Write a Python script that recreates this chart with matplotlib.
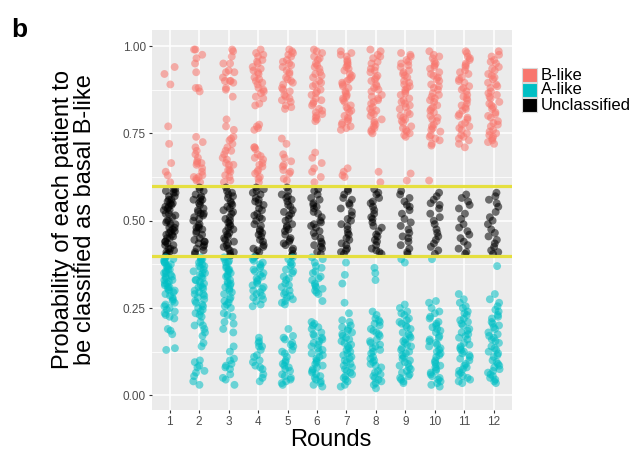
import numpy as np
import matplotlib
matplotlib.use("Agg")
import matplotlib.pyplot as plt
from matplotlib.patches import Rectangle

plt.rcParams['font.family'] = ['Liberation Sans', 'DejaVu Sans']

# probabilidades, una lista por ronda
probs_r1 = [0.94, 0.92, 0.89, 0.77, 0.72, 0.665, 0.64, 0.63, 0.61,
            0.59, 0.59, 0.585, 0.58, 0.58, 0.57, 0.57, 0.56, 0.56, 0.555, 0.55, 0.55, 0.545, 0.54, 0.54,
            0.535, 0.53, 0.53, 0.52, 0.52, 0.515, 0.51, 0.50, 0.50, 0.495, 0.49, 0.49, 0.48, 0.48, 0.475,
            0.47, 0.47, 0.465, 0.46, 0.46, 0.455, 0.45, 0.45, 0.44, 0.44, 0.435, 0.43, 0.43, 0.42, 0.42,
            0.415, 0.41, 0.41, 0.405, 0.40,
            0.395, 0.39, 0.39, 0.385, 0.38, 0.38, 0.375, 0.37, 0.37, 0.365, 0.36, 0.36, 0.355, 0.35, 0.35,
            0.345, 0.34, 0.34, 0.335, 0.33, 0.33, 0.325, 0.32, 0.32, 0.315, 0.31, 0.31, 0.305, 0.30, 0.30,
            0.295, 0.29, 0.285, 0.28, 0.275, 0.27, 0.265, 0.26, 0.255, 0.25, 0.245, 0.24, 0.235, 0.23,
            0.225, 0.22, 0.19, 0.185, 0.175, 0.135, 0.13]
probs_r2 = [0.99, 0.99, 0.975, 0.965, 0.95, 0.925, 0.88, 0.88, 0.87, 0.74, 0.725, 0.71, 0.70, 0.69,
            0.68, 0.67, 0.665, 0.66, 0.665, 0.65, 0.64, 0.63, 0.625, 0.62, 0.625, 0.61, 0.615,
            0.595, 0.59, 0.585, 0.575, 0.57, 0.565, 0.56, 0.555, 0.55, 0.545, 0.535, 0.53, 0.525, 0.52,
            0.515, 0.51, 0.505, 0.50, 0.49, 0.485, 0.48, 0.475, 0.47, 0.465, 0.46, 0.45, 0.445, 0.44,
            0.435, 0.43, 0.425, 0.42, 0.415, 0.41, 0.405, 0.56, 0.52, 0.48, 0.44,
            0.395, 0.39, 0.385, 0.38, 0.375, 0.37, 0.365, 0.36, 0.355, 0.35, 0.345, 0.34, 0.335, 0.33,
            0.325, 0.32, 0.315, 0.31, 0.305, 0.30, 0.295, 0.29, 0.285, 0.28, 0.275, 0.27, 0.265, 0.26,
            0.255, 0.25, 0.245, 0.24, 0.235, 0.23, 0.225, 0.39, 0.37, 0.35, 0.33, 0.31, 0.29,
            0.21, 0.20, 0.20, 0.19, 0.18, 0.17, 0.15, 0.14, 0.10, 0.095, 0.085, 0.08, 0.07, 0.065,
            0.055, 0.04, 0.03]
probs_r3 = [0.99, 0.985, 0.97, 0.95, 0.95, 0.925, 0.925, 0.93, 0.91, 0.90, 0.90, 0.90, 0.895, 0.875,
            0.88, 0.855, 0.79, 0.77, 0.76, 0.74, 0.735, 0.73, 0.72, 0.71, 0.70, 0.70, 0.69, 0.68, 0.675,
            0.665, 0.66, 0.66, 0.645, 0.64, 0.645, 0.625, 0.63, 0.615, 0.61,
            0.595, 0.585, 0.58, 0.57, 0.565, 0.555, 0.55, 0.545, 0.54, 0.53, 0.525, 0.52, 0.51, 0.505,
            0.50, 0.495, 0.49, 0.48, 0.475, 0.47, 0.46, 0.455, 0.45, 0.445, 0.44, 0.43, 0.425, 0.42,
            0.415, 0.41, 0.405, 0.40, 0.575, 0.535, 0.485, 0.465, 0.435,
            0.395, 0.39, 0.385, 0.38, 0.37, 0.365, 0.36, 0.355, 0.35, 0.345, 0.34, 0.33, 0.325, 0.32,
            0.315, 0.31, 0.305, 0.30, 0.295, 0.29, 0.28, 0.275, 0.27, 0.265, 0.26, 0.255, 0.25, 0.38,
            0.36, 0.34, 0.32,
            0.235, 0.23, 0.225, 0.21, 0.205, 0.18, 0.19, 0.14, 0.125, 0.105, 0.10, 0.09, 0.085, 0.08,
            0.075, 0.06, 0.05, 0.045, 0.03]
probs_r4 = [0.99, 0.98, 0.97, 0.975, 0.96, 0.955, 0.95, 0.94, 0.935, 0.93, 0.925, 0.92, 0.91, 0.905,
            0.90, 0.895, 0.89, 0.88, 0.875, 0.87, 0.865, 0.855, 0.85, 0.835, 0.83, 0.775, 0.77, 0.76,
            0.765, 0.71, 0.71, 0.705, 0.69, 0.685, 0.68, 0.675, 0.665, 0.66, 0.655, 0.645, 0.64, 0.635,
            0.625, 0.62, 0.61,
            0.595, 0.59, 0.58, 0.575, 0.565, 0.56, 0.55, 0.545, 0.535, 0.53, 0.52, 0.515, 0.505, 0.50,
            0.49, 0.485, 0.475, 0.47, 0.46, 0.455, 0.445, 0.44, 0.43, 0.425, 0.415, 0.41, 0.40, 0.585,
            0.555, 0.51, 0.465, 0.42,
            0.395, 0.39, 0.38, 0.375, 0.37, 0.365, 0.355, 0.35, 0.345, 0.34, 0.335, 0.325, 0.32, 0.315,
            0.31, 0.305, 0.30, 0.295, 0.29, 0.285, 0.28, 0.275, 0.27, 0.385, 0.36, 0.33,
            0.26, 0.255, 0.165, 0.155, 0.15, 0.14, 0.13, 0.14, 0.11, 0.115, 0.10, 0.095, 0.085, 0.08,
            0.075, 0.06, 0.05, 0.04]
probs_r5 = [0.99, 0.985, 0.98, 0.975, 0.97, 0.96, 0.955, 0.95, 0.945, 0.94, 0.93, 0.925, 0.92, 0.91,
            0.905, 0.90, 0.895, 0.89, 0.88, 0.875, 0.87, 0.86, 0.855, 0.85, 0.845, 0.84, 0.83, 0.825,
            0.82, 0.735, 0.72, 0.69, 0.68, 0.67, 0.66, 0.655, 0.645, 0.64, 0.635, 0.62, 0.615,
            0.595, 0.585, 0.575, 0.57, 0.56, 0.555, 0.545, 0.54, 0.53, 0.52, 0.515, 0.505, 0.50, 0.49,
            0.485, 0.475, 0.47, 0.46, 0.45, 0.445, 0.435, 0.43, 0.42, 0.415, 0.405, 0.40, 0.565, 0.525,
            0.48, 0.44,
            0.395, 0.39, 0.38, 0.375, 0.37, 0.36, 0.355, 0.35, 0.34, 0.335, 0.33, 0.32, 0.315, 0.31,
            0.30, 0.295, 0.29, 0.285, 0.28, 0.275, 0.27, 0.265, 0.26,
            0.19, 0.17, 0.165, 0.16, 0.15, 0.145, 0.14, 0.13, 0.125, 0.12, 0.11, 0.10, 0.095, 0.09,
            0.085, 0.08, 0.075, 0.07, 0.06, 0.055, 0.05, 0.045, 0.04, 0.035, 0.03]
probs_r6 = [0.99, 0.985, 0.98, 0.97, 0.965, 0.96, 0.95, 0.945, 0.94, 0.935, 0.925, 0.92, 0.915, 0.91,
            0.90, 0.895, 0.89, 0.885, 0.875, 0.87, 0.865, 0.86, 0.85, 0.845, 0.84, 0.835, 0.83, 0.82,
            0.815, 0.81, 0.805, 0.80, 0.795, 0.79, 0.785, 0.695, 0.68, 0.665, 0.65, 0.64, 0.625, 0.61,
            0.59, 0.585, 0.575, 0.565, 0.56, 0.55, 0.54, 0.535, 0.525, 0.52, 0.51, 0.50, 0.495, 0.485,
            0.48, 0.47, 0.465, 0.455, 0.45, 0.44, 0.435, 0.425, 0.42, 0.41, 0.405, 0.545, 0.49, 0.43,
            0.395, 0.39, 0.38, 0.37, 0.365, 0.355, 0.35, 0.34, 0.335, 0.33, 0.32, 0.315, 0.31, 0.305,
            0.30, 0.295, 0.29, 0.27,
            0.21, 0.205, 0.20, 0.195, 0.19, 0.18, 0.175, 0.17, 0.165, 0.16, 0.155, 0.15, 0.145, 0.14,
            0.135, 0.13, 0.125, 0.12, 0.115, 0.11, 0.105, 0.10, 0.095, 0.09, 0.085, 0.08, 0.075, 0.07,
            0.065, 0.06, 0.055, 0.05, 0.045, 0.04, 0.035, 0.03, 0.025]
probs_r7 = [0.985, 0.98, 0.975, 0.97, 0.96, 0.955, 0.95, 0.945, 0.94, 0.935, 0.93, 0.92, 0.915, 0.91,
            0.905, 0.90, 0.895, 0.89, 0.885, 0.88, 0.87, 0.865, 0.86, 0.855, 0.85, 0.845, 0.84, 0.83,
            0.825, 0.82, 0.815, 0.81, 0.80, 0.795, 0.79, 0.785, 0.78, 0.775, 0.77, 0.765, 0.76, 0.65,
            0.64, 0.63, 0.625,
            0.59, 0.585, 0.575, 0.565, 0.56, 0.55, 0.545, 0.535, 0.525, 0.515, 0.505, 0.50, 0.49, 0.485,
            0.475, 0.465, 0.46, 0.45, 0.445, 0.435, 0.43, 0.42, 0.415, 0.41, 0.405,
            0.38, 0.345, 0.32, 0.265, 0.235, 0.215, 0.21, 0.20, 0.195, 0.19, 0.185, 0.18, 0.175, 0.17,
            0.165, 0.16, 0.155, 0.15, 0.145, 0.14, 0.135, 0.13, 0.125, 0.12, 0.115, 0.11, 0.105, 0.10,
            0.095, 0.09, 0.085, 0.08, 0.075, 0.07, 0.065, 0.06, 0.055, 0.05, 0.045, 0.04, 0.03, 0.025]
probs_r8 = [0.99, 0.985, 0.975, 0.97, 0.965, 0.955, 0.95, 0.94, 0.935, 0.93, 0.925, 0.915, 0.91, 0.905,
            0.90, 0.89, 0.885, 0.88, 0.875, 0.87, 0.86, 0.855, 0.85, 0.845, 0.84, 0.835, 0.825, 0.82,
            0.815, 0.81, 0.805, 0.80, 0.79, 0.785, 0.78, 0.775, 0.77, 0.765, 0.76, 0.755, 0.75, 0.64, 0.61,
            0.59, 0.58, 0.575, 0.565, 0.555, 0.55, 0.54, 0.53, 0.52, 0.51, 0.505, 0.495, 0.485, 0.48,
            0.47, 0.46, 0.455, 0.445, 0.44, 0.43, 0.42, 0.415, 0.41, 0.405,
            0.365, 0.35, 0.33, 0.24, 0.23, 0.22, 0.215, 0.21, 0.205, 0.20, 0.19, 0.185, 0.18, 0.175,
            0.17, 0.16, 0.155, 0.15, 0.145, 0.14, 0.135, 0.13, 0.125, 0.12, 0.11, 0.105, 0.10, 0.095,
            0.09, 0.085, 0.08, 0.07, 0.065, 0.06, 0.055, 0.05, 0.045, 0.04, 0.035, 0.03, 0.02]
probs_r9 = [0.98, 0.975, 0.97, 0.96, 0.955, 0.95, 0.945, 0.94, 0.93, 0.925, 0.92, 0.915, 0.91, 0.90,
            0.895, 0.89, 0.885, 0.88, 0.875, 0.87, 0.865, 0.86, 0.85, 0.845, 0.84, 0.835, 0.83, 0.825,
            0.82, 0.81, 0.805, 0.80, 0.795, 0.79, 0.785, 0.78, 0.77, 0.765, 0.76, 0.755, 0.75, 0.745,
            0.74, 0.635, 0.615,
            0.585, 0.575, 0.565, 0.555, 0.545, 0.54, 0.53, 0.52, 0.505, 0.495, 0.485, 0.475, 0.465,
            0.455, 0.45, 0.44, 0.43, 0.42, 0.41, 0.405,
            0.39, 0.38, 0.26, 0.25, 0.24, 0.235, 0.23, 0.22, 0.215, 0.21, 0.205, 0.20, 0.195, 0.19,
            0.18, 0.175, 0.17, 0.165, 0.16, 0.155, 0.15, 0.145, 0.14, 0.135, 0.13, 0.125, 0.12, 0.115,
            0.11, 0.105, 0.10, 0.095, 0.09, 0.085, 0.08, 0.075, 0.07, 0.065, 0.06, 0.055, 0.05, 0.045,
            0.04, 0.035]
probs_r10 = [0.985, 0.975, 0.97, 0.965, 0.955, 0.95, 0.945, 0.94, 0.935, 0.925, 0.92, 0.915, 0.91,
             0.905, 0.90, 0.89, 0.885, 0.88, 0.875, 0.865, 0.86, 0.855, 0.85, 0.845, 0.84, 0.83, 0.825,
             0.82, 0.815, 0.81, 0.80, 0.795, 0.79, 0.785, 0.775, 0.77, 0.765, 0.76, 0.755, 0.745, 0.74,
             0.735, 0.73, 0.72, 0.715, 0.615,
             0.58, 0.57, 0.56, 0.55, 0.545, 0.535, 0.52, 0.51, 0.50, 0.49, 0.475, 0.465, 0.455, 0.445,
             0.435, 0.425, 0.415, 0.405,
             0.39, 0.27, 0.265, 0.25, 0.24, 0.235, 0.225, 0.22, 0.21, 0.205, 0.20, 0.195, 0.19, 0.185,
             0.18, 0.17, 0.165, 0.16, 0.155, 0.15, 0.145, 0.14, 0.135, 0.13, 0.125, 0.12, 0.115, 0.11,
             0.10, 0.095, 0.09, 0.085, 0.08, 0.075, 0.07, 0.065, 0.06, 0.055, 0.05, 0.045, 0.04, 0.035,
             0.03, 0.025]
probs_r11 = [0.985, 0.98, 0.97, 0.965, 0.96, 0.95, 0.945, 0.94, 0.93, 0.925, 0.92, 0.91, 0.905, 0.90,
             0.895, 0.885, 0.88, 0.875, 0.87, 0.86, 0.855, 0.85, 0.845, 0.835, 0.83, 0.825, 0.82, 0.815,
             0.805, 0.80, 0.795, 0.79, 0.78, 0.775, 0.77, 0.765, 0.76, 0.75, 0.745, 0.74, 0.735, 0.73,
             0.72, 0.71,
             0.575, 0.565, 0.555, 0.545, 0.535, 0.52, 0.505, 0.49, 0.48, 0.47, 0.46, 0.45, 0.44, 0.43,
             0.42, 0.41, 0.405,
             0.29, 0.275, 0.265, 0.255, 0.25, 0.24, 0.235, 0.23, 0.22, 0.215, 0.21, 0.205, 0.20, 0.19,
             0.185, 0.18, 0.175, 0.17, 0.165, 0.16, 0.15, 0.145, 0.14, 0.135, 0.13, 0.125, 0.12, 0.115,
             0.11, 0.105, 0.10, 0.09, 0.085, 0.08, 0.075, 0.07, 0.065, 0.06, 0.055, 0.05, 0.045, 0.04,
             0.035]
probs_r12 = [0.985, 0.975, 0.97, 0.96, 0.955, 0.95, 0.94, 0.935, 0.93, 0.92, 0.915, 0.91, 0.905, 0.895,
             0.89, 0.885, 0.88, 0.87, 0.865, 0.86, 0.855, 0.85, 0.84, 0.835, 0.83, 0.825, 0.82, 0.81,
             0.805, 0.80, 0.795, 0.785, 0.78, 0.775, 0.77, 0.76, 0.755, 0.75, 0.745, 0.74, 0.735, 0.73,
             0.725, 0.72,
             0.58, 0.57, 0.56, 0.55, 0.54, 0.525, 0.51, 0.50, 0.49, 0.475, 0.465, 0.455, 0.445, 0.435,
             0.425, 0.415, 0.41, 0.405,
             0.37, 0.29, 0.275, 0.265, 0.255, 0.245, 0.24, 0.23, 0.225, 0.22, 0.21, 0.205, 0.20, 0.195,
             0.19, 0.18, 0.175, 0.17, 0.165, 0.16, 0.155, 0.15, 0.14, 0.135, 0.13, 0.125, 0.12, 0.115,
             0.11, 0.10, 0.095, 0.09, 0.085, 0.08, 0.075, 0.07, 0.065, 0.06, 0.055, 0.05, 0.045, 0.04,
             0.035]

rounds = [probs_r1, probs_r2, probs_r3, probs_r4, probs_r5, probs_r6,
          probs_r7, probs_r8, probs_r9, probs_r10, probs_r11, probs_r12]
round_labels = [str(i) for i in range(1, 13)]
legend_labels = ['B-like', 'A-like', 'Unclassified']
upper_cut = 0.6
lower_cut = 0.4

col_b = '#F8766D'
col_a = '#00BFC4'
col_u = '#000000'

fig = plt.figure(figsize=(6.36, 4.61), dpi=100)
ax = fig.add_axes([0.239, 0.111, 0.566, 0.824])
ax.set_facecolor('#EBEBEB')

for k, vals in enumerate(rounds):
    y = np.array(vals)
    idx = np.arange(len(y)) + 1 + 1000 * k
    # jitter horizontal determinista (solo posicion, no datos)
    h = np.sin(idx * 12.9898) * 43758.5453
    jit = ((h - np.floor(h)) - 0.5) * 0.4
    x = k + 1 + jit
    cols = np.where(y > upper_cut, col_b, np.where(y < lower_cut, col_a, col_u))
    ax.scatter(x, y, s=32, c=cols, alpha=0.55, linewidths=0, zorder=3)

ax.axhline(upper_cut, color='#E5DF3F', lw=2.3, zorder=4)
ax.axhline(lower_cut, color='#E5DF3F', lw=2.3, zorder=4)

ax.set_xlim(0.4, 12.62)
ax.set_ylim(-0.0415, 1.046)
ax.set_xticks(range(1, 13))
ax.set_xticklabels(round_labels)
ax.set_yticks([0, 0.25, 0.5, 0.75, 1.0])
ax.set_yticklabels(['0.00', '0.25', '0.50', '0.75', '1.00'])
ax.set_yticks([0.125, 0.375, 0.625, 0.875], minor=True)
ax.grid(which='major', color='white', lw=1.1, zorder=0)
ax.grid(which='minor', axis='y', color='white', lw=0.55, zorder=0)
ax.set_axisbelow(True)
for s in ax.spines.values():
    s.set_visible(False)
ax.tick_params(which='major', length=2.5, width=0.8, color='#333333', labelsize=8.5,
               labelcolor='#4D4D4D', pad=2)
ax.tick_params(which='minor', length=0)

fig.text(0.117, 0.523, 'Probability of each patient to\nbe classified as basal B-like',
         rotation=90, ha='center', va='center', fontsize=17, linespacing=1.0)
fig.text(0.52, 0.045, 'Rounds', ha='center', va='center', fontsize=17)
fig.text(0.018, 0.935, 'b', ha='left', va='center', fontsize=19, fontweight='bold')

# leyenda dibujada a mano para igualar el espaciado
W, H = 636.0, 461.0
for i, (lab, c) in enumerate(zip(legend_labels, [col_b, col_a, col_u])):
    yc = 75 + 15 * i
    fig.patches.append(Rectangle((522 / W, 1 - (yc + 7) / H), 15 / W, 14 / H,
                                 transform=fig.transFigure, facecolor=c,
                                 edgecolor='#d9d9d9', lw=0.8))
    fig.text(541 / W, 1 - yc / H, lab, ha='left', va='center', fontsize=12)

plt.savefig('out.png', dpi=100)
